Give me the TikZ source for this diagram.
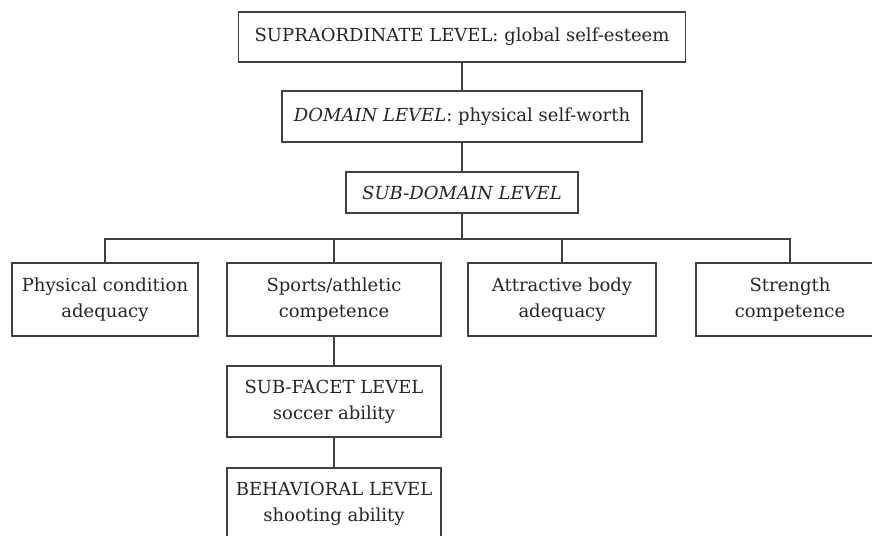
\documentclass[tikz,border=0pt]{standalone}
\usepackage{fontspec}
\setmainfont{DejaVu Serif}
\begin{document}
\begin{tikzpicture}[x=1pt,y=-1pt,
  box/.style={draw=black!75,line width=1.4pt,text=black!85,inner sep=0pt,align=center,
    font=\fontsize{18}{26}\selectfont},
  link/.style={draw=black!75,line width=1.4pt}]
\clip (0,0) rectangle (872,535);
\fill[white] (0,0) rectangle (872,535);
\node[box,minimum width=447pt,minimum height=50pt] (top) at (462,37) {SUPRAORDINATE LEVEL: global self-esteem};
\node[box,minimum width=360pt,minimum height=51pt] (dom) at (462,116.5) {\textit{DOMAIN LEVEL}: physical self-worth};
\node[box,minimum width=232pt,minimum height=41pt] (sub) at (462,192.5) {\textit{SUB-DOMAIN LEVEL}};
\node[box,minimum width=186pt,minimum height=73pt] (b1) at (105,299.5) {Physical condition\\adequacy};
\node[box,minimum width=214pt,minimum height=73pt] (b2) at (334,299.5) {Sports/athletic\\competence};
\node[box,minimum width=188pt,minimum height=73pt] (b3) at (562,299.5) {Attractive body\\adequacy};
\node[box,minimum width=188pt,minimum height=73pt] (b4) at (790,299.5) {Strength\\competence};
\node[box,minimum width=214pt,minimum height=71pt] (sf) at (334,401.5) {SUB-FACET LEVEL\\soccer ability};
\node[box,minimum width=214pt,minimum height=71pt] (bh) at (334,503.5) {BEHAVIORAL LEVEL\\shooting ability};
\coordinate (bus) at (462,239);
\draw[link] (top.south) -- (dom.north);
\draw[link] (dom.south) -- (sub.north);
\draw[link] (sub.south) -- (bus);
\draw[link] (b1.north) |- (bus) -| (b4.north);
\draw[link] (b2.north) -- (b2.north |- bus);
\draw[link] (b3.north) -- (b3.north |- bus);
\draw[link] (b2.south) -- (sf.north);
\draw[link] (sf.south) -- (bh.north);
\end{tikzpicture}
\end{document}
